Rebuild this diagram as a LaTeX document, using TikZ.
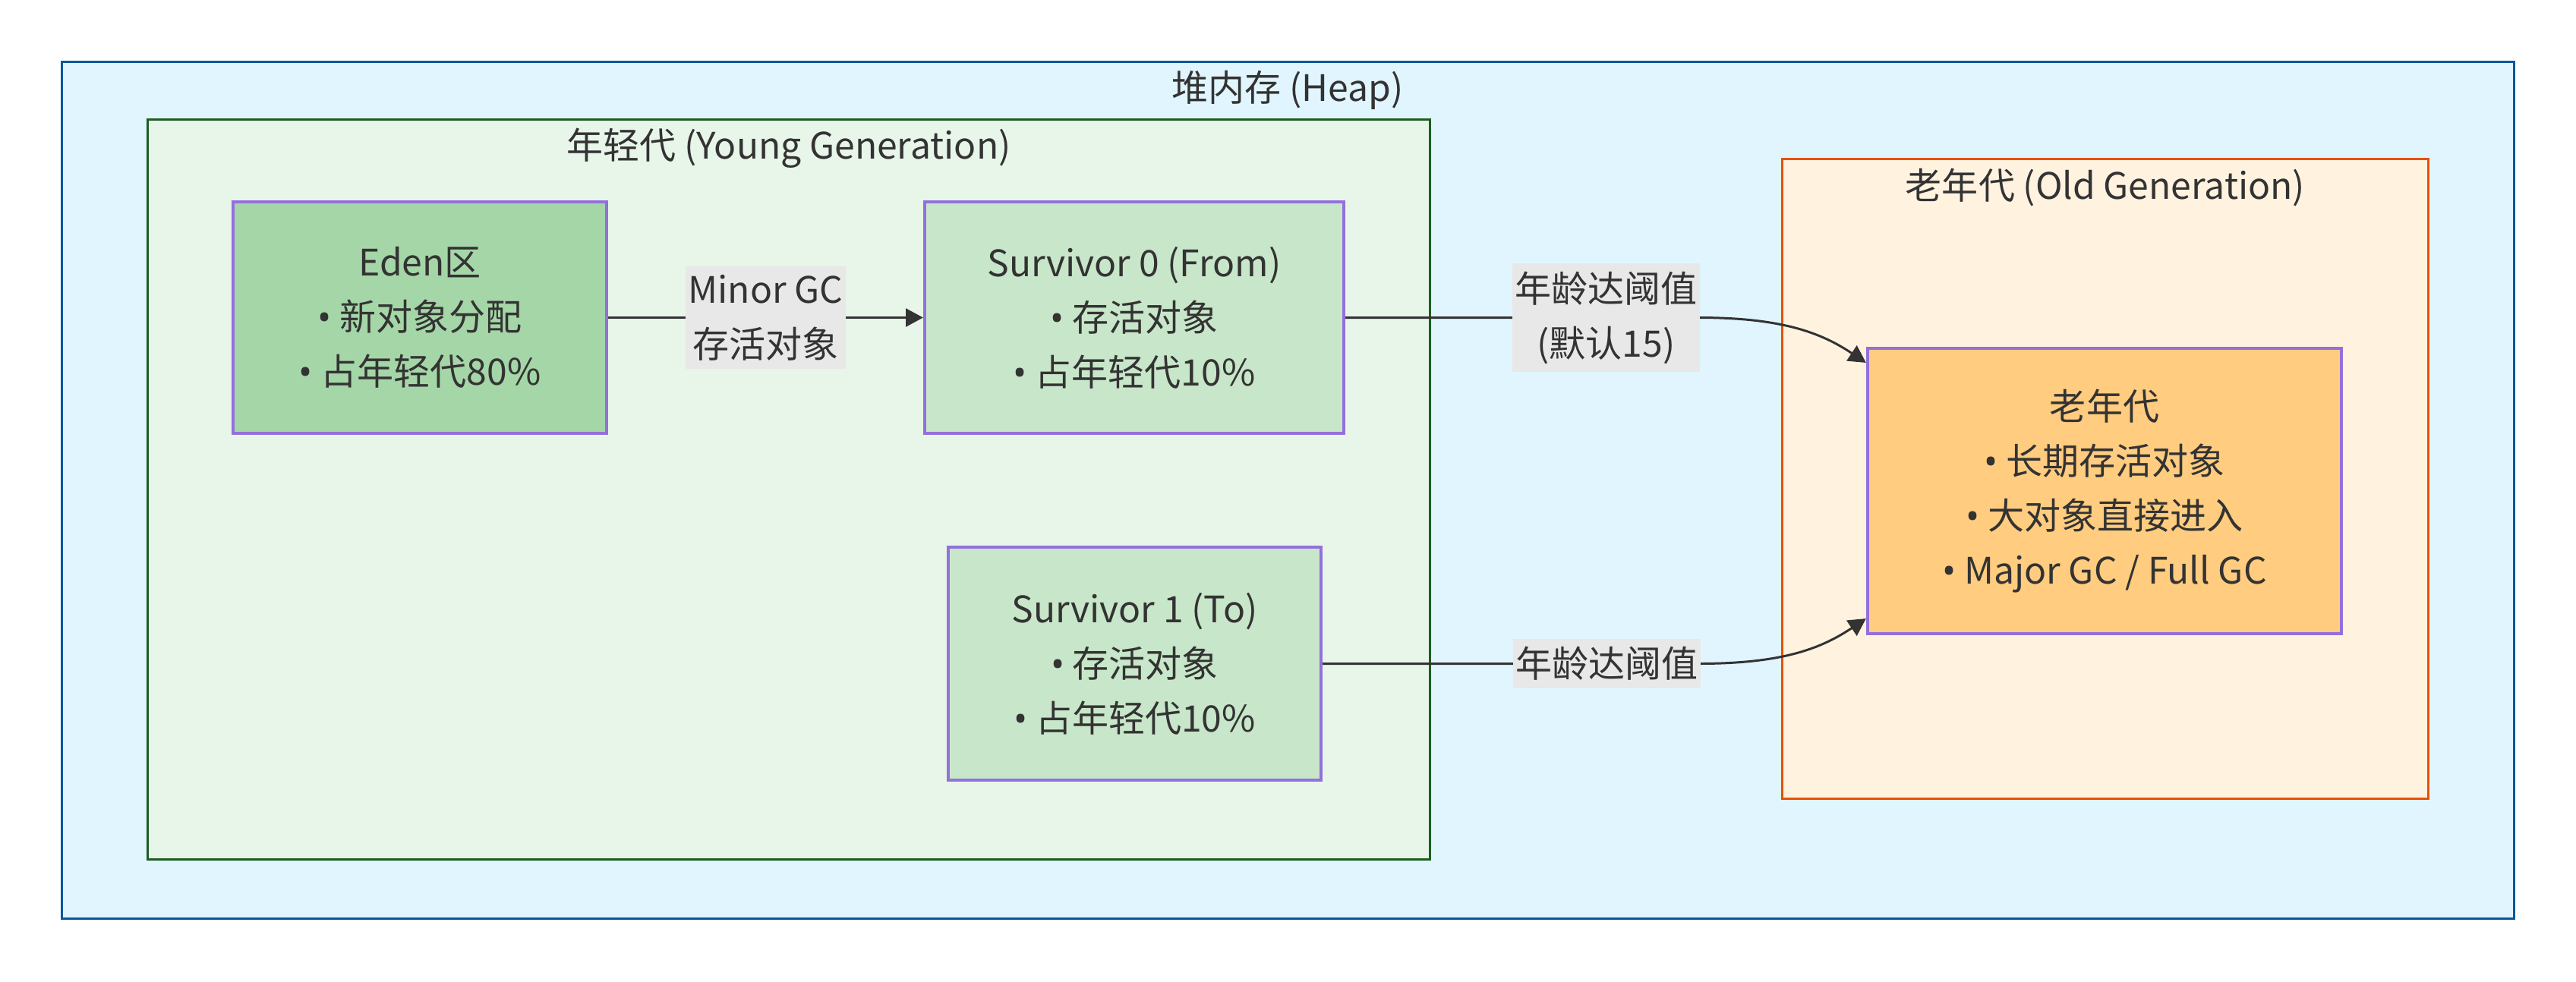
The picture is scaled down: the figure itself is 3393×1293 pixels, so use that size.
\documentclass[tikz,border=0pt]{standalone}
\usepackage{fontspec}
\setmainfont{Noto Sans CJK SC}
\newfontfamily\bulletfont{Noto Sans}
\newcommand{\itembul}{{\bulletfont •}\ }
\usetikzlibrary{arrows.meta, positioning, calc}

\definecolor{heapfill}{HTML}{E1F5FE}
\definecolor{heapedge}{HTML}{01579B}
\definecolor{youngfill}{HTML}{E8F5E9}
\definecolor{youngedge}{HTML}{1B5E20}
\definecolor{oldfill}{HTML}{FFF3E0}
\definecolor{oldedge}{HTML}{E65100}
\definecolor{edenfill}{HTML}{A5D6A7}
\definecolor{survfill}{HTML}{C8E6C9}
\definecolor{tenurefill}{HTML}{FFCC80}
\definecolor{boxedge}{HTML}{9370DB}
\definecolor{labelbg}{HTML}{E8E8E8}
\definecolor{txt}{HTML}{333333}

\begin{document}
\begin{tikzpicture}[x=0.01cm, y=-0.01cm,
    region/.style={rectangle, draw, line width=0.85pt, inner sep=0pt},
    title/.style={rectangle, text=txt, font=\fontsize{13.66pt}{20.5pt}\selectfont},
    area/.style={rectangle, draw=boxedge, line width=1.1pt, align=center, text=txt,
        font=\fontsize{13.66pt}{20.5pt}\selectfont},
    elabel/.style={rectangle, fill=labelbg, align=center, text=txt, inner xsep=1pt, inner ysep=3pt,
        font=\fontsize{13.66pt}{20.5pt}\selectfont},
    flow/.style={draw=txt, line width=0.85pt, -{Triangle[length=6.5pt, width=6.8pt]}}]

        \useasboundingbox (0,0) rectangle (3393,1293);

        \node[region, draw=heapedge, fill=heapfill, minimum width=32.29cm, minimum height=11.28cm]
            (heap) at (1696.5,646) {};
        \node[title] (heap_title) at (1696,119) {堆内存 (Heap)};

        \node[region, draw=youngedge, fill=youngfill, minimum width=16.88cm, minimum height=9.74cm]
            (young) at (1039,645) {};
        \node[title] (young_title) at (1039,195) {年轻代 (Young Generation)};

        \node[region, draw=oldedge, fill=oldfill, minimum width=8.5cm, minimum height=8.42cm]
            (oldgen) at (2773,631) {};
        \node[title] (old_title) at (2773,247) {老年代 (Old Generation)};

        \node[area, fill=edenfill, minimum width=4.92cm, minimum height=3.05cm] (eden) at (553,418.5)
            {Eden区\\\itembul 新对象分配\\\itembul 占年轻代80\%};

        \node[area, fill=survfill, minimum width=5.52cm, minimum height=3.05cm] (s0) at (1494,418.5)
            {Survivor 0 (From)\\\itembul 存活对象\\\itembul 占年轻代10\%};

        \node[area, fill=survfill, minimum width=4.91cm, minimum height=3.07cm] (s1) at (1494.5,874.5)
            {Survivor 1 (To)\\\itembul 存活对象\\\itembul 占年轻代10\%};

        \node[area, fill=tenurefill, minimum width=6.24cm, minimum height=3.76cm] (tenured) at (2772,647)
            {老年代\\\itembul 长期存活对象\\\itembul 大对象直接进入\\\itembul Major GC / Full GC};

         \draw[flow] (eden.east) -- node[elabel] {Minor GC\\存活对象} (s0.west);

         \draw[flow] (s0.east) -- node[elabel, pos=0.74] {年龄达阈值\\(默认15)} ++(464,0)
             .. controls +(110,0) and +(-60,-40) .. ($(tenured.north west)+(0,21)$);

         \draw[flow] (s1.east) -- node[elabel, pos=0.756] {年龄达阈值} ++(495,0)
             .. controls +(110,0) and +(-60,40) .. ($(tenured.south west)+(0,-22)$);

    \end{tikzpicture}
\end{document}
